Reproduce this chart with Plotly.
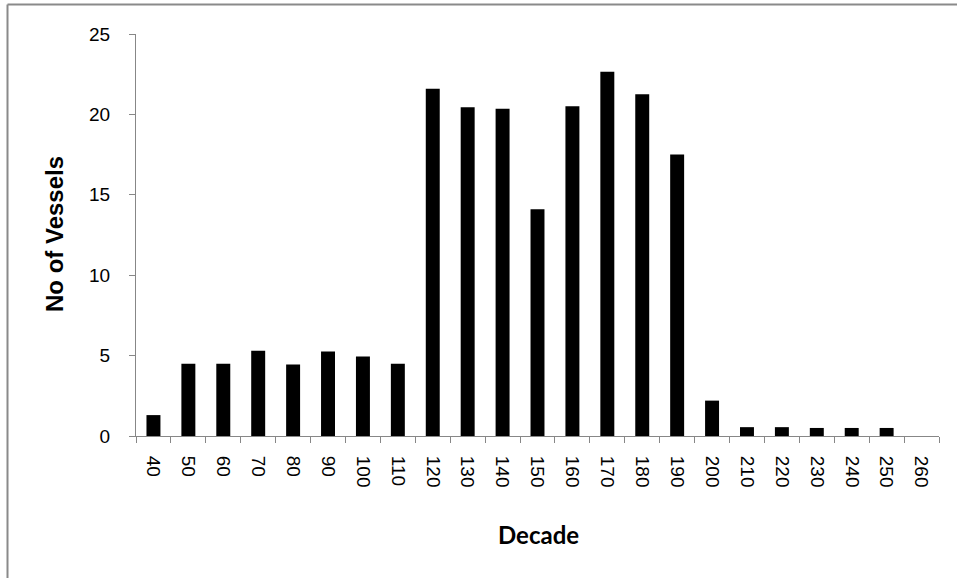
import plotly.graph_objects as go

decades = ["40", "50", "60", "70", "80", "90", "100", "110", "120", "130", "140", "150",
           "160", "170", "180", "190", "200", "210", "220", "230", "240", "250", "260"]
vessels = [1.3, 4.5, 4.5, 5.3, 4.45, 5.25, 4.95, 4.5, 21.6, 20.45, 20.35, 14.1,
           20.5, 22.65, 21.25, 17.5, 2.2, 0.55, 0.55, 0.5, 0.5, 0.5, 0]
y_ticks = [0, 5, 10, 15, 20, 25]

fig = go.Figure(go.Bar(x=decades, y=vessels, marker=dict(color="black", line=dict(width=0))))

W, H = 957, 578
L, R, T, B = 136, 18, 34, 142
pw = W - L - R
ph = H - T - B

axis_col = "#878787"
fig.update_layout(
    width=W, height=H,
    margin=dict(l=L, r=R, t=T, b=B, pad=0),
    plot_bgcolor="white", paper_bgcolor="white",
    bargap=0.6,
    showlegend=False,
    xaxis=dict(
        type="category", range=[-0.5, len(decades) - 0.5],
        showline=True, linecolor=axis_col, linewidth=1,
        ticks="outside", tickson="boundaries", ticklen=6, tickcolor=axis_col,
        tickangle=90, showgrid=False, zeroline=False,
        tickfont=dict(family="Liberation Sans, Arial", size=19, color="black"),
        ticklabelstandoff=15,
    ),
    yaxis=dict(
        range=[0, 25], tickvals=y_ticks, showline=True, linecolor=axis_col, linewidth=1,
        ticks="outside", ticklen=6, tickcolor=axis_col, showgrid=False, zeroline=False,
        tickfont=dict(family="Liberation Sans, Arial", size=19, color="black"),
        ticklabelstandoff=15,
    ),
    annotations=[
        dict(text="<b>No of Vessels</b>", xref="paper", yref="paper",
             x=(55 - L) / pw, y=(T + ph - 234) / ph, textangle=-90, showarrow=False,
             xanchor="center", yanchor="middle",
             font=dict(family="Liberation Sans, Arial", size=24, color="black")),
        dict(text="<b>Decade</b>", xref="paper", yref="paper",
             x=(538 - L) / pw, y=(T + ph - 534) / ph, showarrow=False,
             xanchor="center", yanchor="middle",
             font=dict(family="Lato", size=24, color="black")),
    ],
    shapes=[
        dict(type="line", xref="paper", yref="paper",
             x0=(7.5 - L) / pw, x1=(W + 5 - L) / pw,
             y0=(T + ph - 4.5) / ph, y1=(T + ph - 4.5) / ph,
             line=dict(color="#8a8a8a", width=2)),
        dict(type="line", xref="paper", yref="paper",
             x0=(7.5 - L) / pw, x1=(7.5 - L) / pw,
             y0=(T + ph - 4.5) / ph, y1=(T + ph - H - 5) / ph,
             line=dict(color="#8a8a8a", width=2)),
    ],
)

fig.write_html("out.html",
               config={"displayModeBar": False},
               post_script="document.body.style.margin='0px';document.body.style.overflow='hidden';")
